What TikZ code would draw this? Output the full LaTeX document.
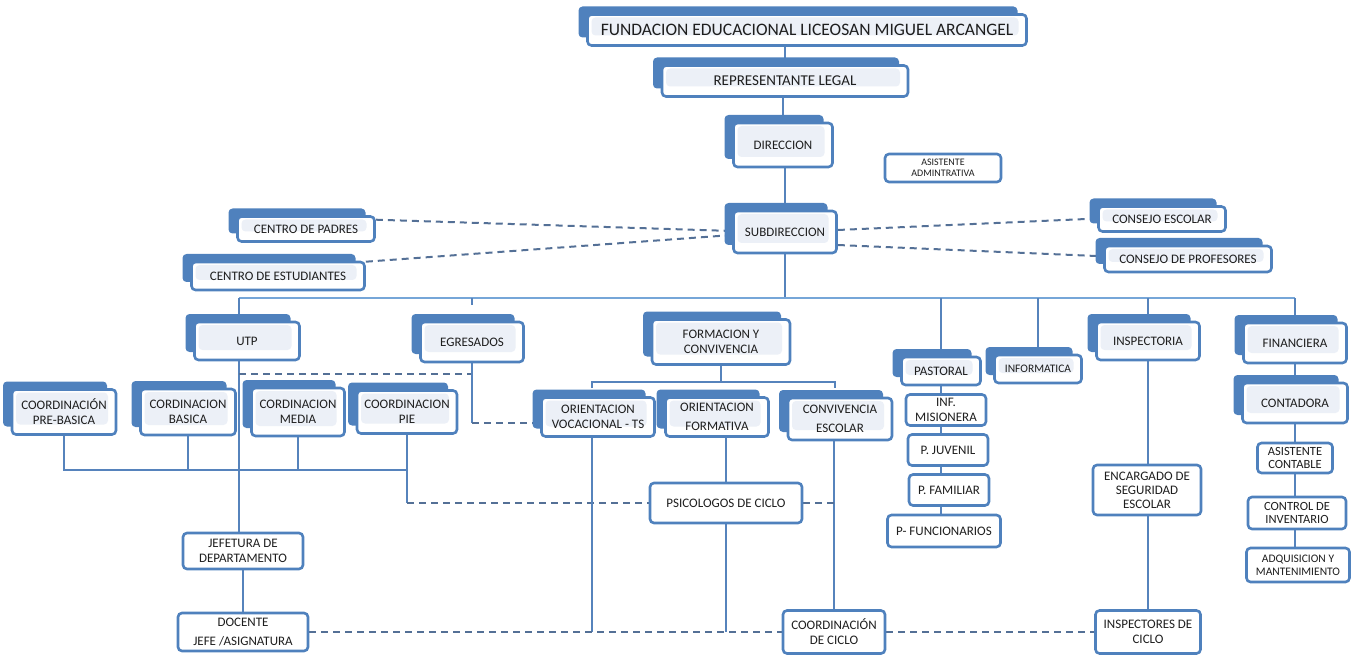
\documentclass[tikz,border=0pt]{standalone}
\usepackage{fontspec}
\setmainfont{Carlito}
\usetikzlibrary{shadows}
\definecolor{orgblue}{RGB}{79,129,189}
\definecolor{orgline}{RGB}{86,131,188}
\definecolor{orgdash}{RGB}{84,112,150}
\definecolor{orgbus}{RGB}{118,166,216}
\definecolor{orglight}{RGB}{236,240,247}
\definecolor{orgtext}{RGB}{30,30,30}
\pgfdeclarelayer{background}
\pgfsetlayers{background,main}

\begin{document}
\begin{tikzpicture}[x=1pt, y=-1pt,
    box/.style={draw=orgblue, line width=2.6pt, rounded corners=4pt, fill=white,
      text=orgtext, align=center, inner sep=0pt, font=\fontsize{13}{15}\selectfont},
    tabbox/.style={box, general shadow={fill=orgblue, shadow xshift=-9pt, shadow yshift=8pt},
      path picture={\fill[orglight] ([xshift=4pt,yshift=-3pt]path picture bounding box.north west)
        rectangle ([xshift=-8pt,yshift=10pt]path picture bounding box.south east);}},
    lesstext/.style={font=\fontsize{11.5}{13}\selectfont},
    tinytext/.style={font=\fontsize{10}{11}\selectfont},
    link/.style={draw=orgline, line width=2pt},
    dashlink/.style={draw=orgdash, line width=2pt, dash pattern=on 7pt off 5pt}]

  \useasboundingbox (0,0) rectangle (1358,655);

  \node[tabbox, minimum width=439pt, minimum height=31pt, font=\fontsize{17.5}{19}\selectfont]
    (fund) at (807,30) {FUNDACION EDUCACIONAL LICEOSAN MIGUEL ARCANGEL};
  \node[tabbox, minimum width=246pt, minimum height=31pt, font=\fontsize{15}{17}\selectfont]
    (rep) at (785,81) {REPRESENTANTE LEGAL};
  \node[tabbox, minimum width=99pt, minimum height=44pt] (dir) at (783,145) {DIRECCION};
  \node[box, tinytext, minimum width=116pt, minimum height=28pt] (asist) at (943,168) {ASISTENTE\\ADMINTRATIVA};
  \node[tabbox, minimum width=103pt, minimum height=42pt] (sub) at (785,232) {SUBDIRECCION};

  \node[tabbox, minimum width=137pt, minimum height=25pt] (cpadres) at (306,229) {CENTRO DE PADRES};
  \node[tabbox, minimum width=173pt, minimum height=28pt] (cestud) at (278,276) {CENTRO DE ESTUDIANTES};
  \node[tabbox, minimum width=127pt, minimum height=25pt] (cescolar) at (1162,219) {CONSEJO ESCOLAR};
  \node[tabbox, minimum width=167pt, minimum height=26pt] (cprof) at (1188,259) {CONSEJO DE PROFESORES};

  \node[tabbox, minimum width=105pt, minimum height=38pt] (utp) at (247,341) {UTP};
  \node[tabbox, minimum width=103pt, minimum height=40pt] (egres) at (472,342) {EGRESADOS};
  \node[tabbox, minimum width=138pt, minimum height=45pt] (form) at (721,342) {FORMACION Y\\CONVIVENCIA};
  \node[tabbox, minimum width=79pt, minimum height=28pt] (past) at (941,371) {PASTORAL};
  \node[tabbox, lesstext, minimum width=87pt, minimum height=28pt] (inform) at (1038,369) {INFORMATICA};
  \node[tabbox, minimum width=103pt, minimum height=38pt] (insp) at (1148,341) {INSPECTORIA};
  \node[tabbox, minimum width=103pt, minimum height=40pt] (fin) at (1295,343) {FINANCIERA};

  \node[tabbox, minimum width=104pt, minimum height=45pt] (cprebas) at (64,412) {COORDINACIÓN\\PRE-BASICA};
  \node[tabbox, minimum width=95pt, minimum height=46pt] (cbasica) at (188,412) {CORDINACION\\BASICA};
  \node[tabbox, minimum width=93pt, minimum height=48pt] (cmedia) at (298,412) {CORDINACION\\MEDIA};
  \node[tabbox, minimum width=100pt, minimum height=43pt] (cpie) at (407,412) {COORDINACION\\PIE};

  \node[tabbox, minimum width=113pt, minimum height=39pt] (orvoc) at (598,417) {ORIENTACION\\VOCACIONAL - TS};
  \node[tabbox, minimum width=103pt, minimum height=39pt] (orform) at (717,417) {ORIENTACION\\[4pt]FORMATIVA};
  \node[tabbox, minimum width=104pt, minimum height=42pt] (convesc) at (840,419) {CONVIVENCIA\\[4pt]ESCOLAR};
  \node[box, minimum width=152pt, minimum height=40pt] (psic) at (726,503) {PSICOLOGOS DE CICLO};

  \node[box, minimum width=120pt, minimum height=36pt] (jef) at (243,551) {JEFETURA DE\\DEPARTAMENTO};
  \node[box, minimum width=130pt, minimum height=38pt] (docente) at (243,632) {DOCENTE\\[4pt]JEFE /ASIGNATURA};
  \node[box, minimum width=102pt, minimum height=43pt] (coordc) at (834,632) {COORDINACIÓN\\DE CICLO};
  \node[box, minimum width=105pt, minimum height=43pt] (inspc) at (1148,632) {INSPECTORES DE\\CICLO};

  \node[box, minimum width=80pt, minimum height=31pt] (infmis) at (946,410) {INF.\\MISIONERA};
  \node[box, minimum width=80pt, minimum height=31pt] (pjuv) at (948,450) {P. JUVENIL};
  \node[box, minimum width=80pt, minimum height=31pt] (pfam) at (949,490) {P. FAMILIAR};
  \node[box, minimum width=113pt, minimum height=32pt] (pfunc) at (944,531) {P- FUNCIONARIOS};

  \node[box, minimum width=108pt, minimum height=50pt, font=\fontsize{13}{14}\selectfont]
    (enc) at (1147,490) {ENCARGADO DE\\SEGURIDAD\\ESCOLAR};

  \node[tabbox, minimum width=105pt, minimum height=40pt] (cont) at (1295,403) {CONTADORA};
  \node[box, minimum width=75pt, minimum height=30pt, font=\fontsize{12.5}{13}\selectfont]
    (asc) at (1295,458) {ASISTENTE\\CONTABLE};
  \node[box, minimum width=98pt, minimum height=32pt, font=\fontsize{12.5}{13}\selectfont]
    (ctrl) at (1297,513) {CONTROL DE\\INVENTARIO};
  \node[box, lesstext, minimum width=103pt, minimum height=34pt] (adq) at (1298,565) {ADQUISICION Y\\MANTENIMIENTO};

  \begin{pgfonlayer}{background}
    \coordinate (busL) at (239,298);
    \coordinate (busR) at (1295,298);
    \coordinate (cbus) at (0,470);
    \coordinate (utptee) at (239,374);
    \coordinate (egtee) at (472,423);
    \coordinate (fbusL) at (592,382);
    \coordinate (fbusR) at (835,382);

    \draw[link] (rep) -- (rep |- fund);
    \draw[link] (dir) -- (dir |- rep);
    \draw[link] (sub) -- (sub |- dir);
    \draw[link] (sub) -- (sub |- busL);
    \draw[draw=orgbus, line width=1.3pt] (busL) -- (busR);

    \draw[dashlink] ([yshift=-4.5pt]cpadres.north east) -- ([yshift=1pt]sub.west);
    \draw[dashlink] ([yshift=-1pt]cestud.north east) -- ([yshift=-3pt]sub.west);
    \draw[dashlink] ([yshift=2pt]sub.east) -- ([xshift=-11pt]cescolar.west);
    \draw[dashlink] ([yshift=-13pt]sub.east) -- ([xshift=-7pt,yshift=3pt]cprof.west);

    \draw[link] (busL) -- (busL |- jef);
    \draw[link] (jef) -- (docente);
    \draw[link] (egres.north |- busL) -- ++(0,7);
    \draw[link] (past |- busL) -- (past |- pfunc);
    \draw[link] (inform) -- (inform |- busL);
    \draw[link] (insp |- busL) -- (insp |- inspc);
    \draw[link] (busR) -- (fin |- adq);

    \draw[link] (cprebas) -- (cprebas |- cbus) -- (cpie |- cbus);
    \draw[link] (cbasica) -- (cbasica |- cbus);
    \draw[link] (cmedia) -- (cmedia |- cbus);
    \draw[link] (cpie) -- (cpie |- psic);
    \draw[dashlink] (cpie |- psic) -- (psic.west);

    \draw[dashlink] (utptee) -- (utptee -| egtee);
    \draw[link] (egres) -- (egtee);
    \draw[dashlink] (egtee) -- (egtee -| orvoc.west);

    \draw[link] (form) -- (form |- fbusL);
    \draw[link] ([yshift=-6pt]fbusL) -- (fbusL) -- (fbusR) -- ([yshift=-6pt]fbusR);
    \draw[link] (fbusL |- orvoc) -- (fbusL |- docente);
    \draw[link] (psic |- orform) -- (psic |- docente);
    \draw[link] (coordc |- convesc) -- (coordc);
    \draw[dashlink] (psic.east) -- (psic.east -| coordc);

    \draw[dashlink] (docente) -- (coordc);
    \draw[dashlink] (coordc) -- (inspc);
  \end{pgfonlayer}
\end{tikzpicture}
\end{document}
